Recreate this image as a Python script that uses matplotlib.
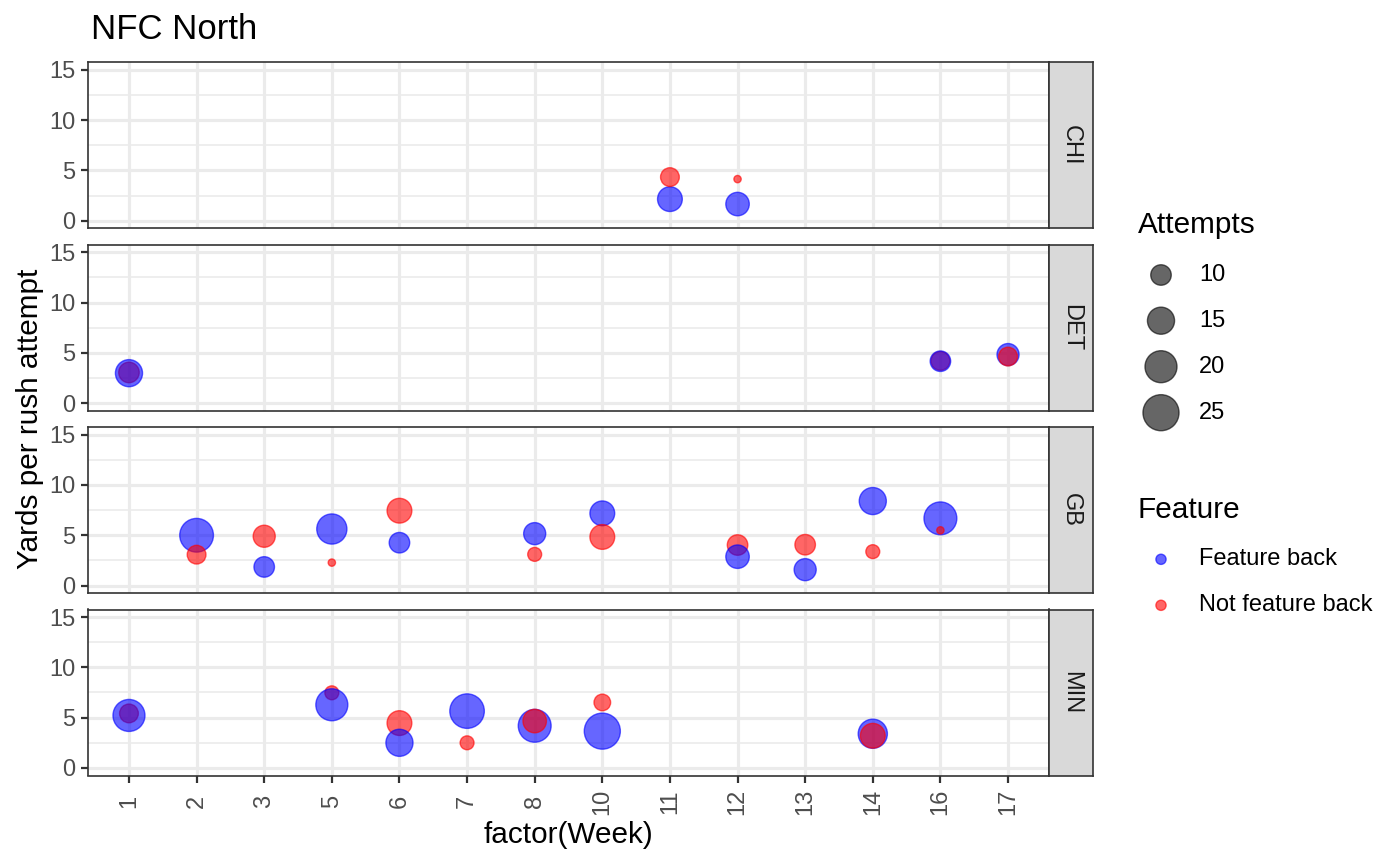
import matplotlib
matplotlib.use("Agg")
import matplotlib.pyplot as plt
import numpy as np

plt.rcParams['font.family'] = ['Liberation Sans', 'DejaVu Sans']

# --- data, rows listed in drawing order ---
WEEKS = [1, 2, 3, 5, 6, 7, 8, 10, 11, 12, 13, 14, 16, 17]
TEAMS = ["CHI", "DET", "GB", "MIN"]

chi_week = [11, 11, 12, 12]
chi_ypa = [2.15, 4.34, 1.66, 4.14]
chi_att = [13, 9, 12, 6]
chi_feat = [1, 0, 1, 0]

det_week = [1, 1, 16, 16, 17, 17]
det_ypa = [3.05, 2.98, 4.20, 4.17, 4.83, 4.63]
det_att = [10, 15, 9, 10, 11, 9]
det_feat = [0, 1, 0, 1, 1, 0]

gb_week = [2, 2, 3, 3, 5, 5, 6, 6, 8, 8, 10, 10, 12, 12, 13, 13, 14, 14, 16, 16]
gb_ypa = [5.00, 3.07, 4.90, 1.85, 5.62, 2.28, 7.44, 4.26, 5.16, 3.10,
          7.18, 4.83, 4.03, 2.87, 4.06, 1.58, 8.40, 3.37, 6.68, 5.49]
gb_att = [22, 9, 11, 10, 18, 6, 13, 10, 11, 7,
          13, 13, 10, 12, 10, 11, 15, 7, 21, 6]
gb_feat = [1, 0, 0, 1, 1, 0, 0, 1, 1, 0,
           1, 0, 0, 1, 0, 1, 1, 0, 1, 0]

min_week = [1, 1, 5, 5, 6, 6, 7, 7, 8, 8, 10, 10, 14, 14]
min_ypa = [5.42, 5.22, 7.47, 6.28, 4.46, 2.50, 5.65, 2.50, 4.19, 4.66, 6.51, 3.66, 3.40, 3.20]
min_att = [9, 20, 7, 20, 13, 15, 23, 7, 21, 12, 8, 25, 17, 13]
min_feat = [0, 1, 0, 1, 0, 1, 1, 0, 1, 0, 0, 1, 1, 0]

SIZE_BREAKS = [10, 15, 20, 25]
FEATURE_LABELS = ["Feature back", "Not feature back"]

team_data = {
    "CHI": (chi_week, chi_ypa, chi_att, chi_feat),
    "DET": (det_week, det_ypa, det_att, det_feat),
    "GB": (gb_week, gb_ypa, gb_att, gb_feat),
    "MIN": (min_week, min_ypa, min_att, min_feat),
}

# --- styling ---
W, H, DPI = 1400, 865, 200
EDGE_LW = 0.5
BLUE = (0, 0, 1, 0.6)
RED = (1, 0, 0, 0.6)
GREY20 = "#333333"
GRID = "#EBEBEB"
TITLE_FS, AXTITLE_FS, TEXT_FS = 12.5, 10.7, 8.5


def marker_area(att):
    # ggplot-like area scale: diameter grows with sqrt(attempts - min)
    d_px = 8.7 + 6.6 * np.sqrt(np.clip(np.asarray(att, float) - 6, 0, None))
    d_pt = d_px * 72 / DPI - EDGE_LW
    return d_pt ** 2


def px_box(x0, y0, x1, y1):
    return [x0 / W, 1 - y1 / H, (x1 - x0) / W, (y1 - y0) / H]


fig = plt.figure(figsize=(W / DPI, H / DPI), dpi=DPI)

P_LEFT, P_RIGHT, S_RIGHT = 88.4, 1048.6, 1093.3
P_TOP, P_H, P_STEP = 62.3, 166.0, 182.4

for i, team in enumerate(TEAMS):
    top = P_TOP + i * P_STEP
    ax = fig.add_axes(px_box(P_LEFT, top, P_RIGHT, top + P_H))
    week, ypa, att, feat = team_data[team]
    xpos = [WEEKS.index(w) + 1 for w in week]
    cols = [BLUE if f else RED for f in feat]
    ax.scatter(xpos, ypa, s=marker_area(att), c=cols, edgecolors=cols,
               linewidths=EDGE_LW, zorder=3)

    ax.set_xlim(0.4, len(WEEKS) + 0.6)
    ax.set_ylim(-0.75, 15.75)
    ax.set_yticks([0, 5, 10, 15])
    ax.set_yticks([2.5, 7.5, 12.5], minor=True)
    ax.set_xticks(range(1, len(WEEKS) + 1))
    ax.set_axisbelow(True)
    ax.grid(which='major', color=GRID, lw=1.15)
    ax.grid(which='minor', axis='y', color=GRID, lw=0.58)
    ax.tick_params(which='minor', length=0)
    ax.tick_params(axis='y', length=2.66, width=0.8, color=GREY20, pad=2,
                   labelsize=TEXT_FS, labelcolor="#4D4D4D")
    for sp in ax.spines.values():
        sp.set_color(GREY20)
        sp.set_linewidth(0.6)

    if i == len(TEAMS) - 1:
        ax.set_xticklabels([str(w) for w in WEEKS], rotation=90, va='center', ha='center')
        ax.tick_params(axis='x', length=2.5, width=0.8, color=GREY20, pad=6.9,
                       labelsize=TEXT_FS, labelcolor="#4D4D4D")
    else:
        ax.tick_params(axis='x', bottom=False, labelbottom=False)

    # facet strip
    sax = fig.add_axes(px_box(P_RIGHT, top, S_RIGHT, top + P_H))
    sax.set_facecolor("#D9D9D9")
    sax.set_xticks([])
    sax.set_yticks([])
    for sp in sax.spines.values():
        sp.set_color(GREY20)
        sp.set_linewidth(0.6)
    sax.text(0.5, 0.5, team, rotation=-90, ha='center', va='center',
             fontsize=TEXT_FS, color="#1A1A1A", transform=sax.transAxes)

# titles
fig.text(90.7 / W, 1 - 39.3 / H, "NFC North", fontsize=TITLE_FS, va='baseline', ha='left')
fig.text(30 / W, 1 - 419 / H, "Yards per rush attempt", fontsize=AXTITLE_FS, rotation=90,
         ha='center', va='center')
fig.text((P_LEFT + P_RIGHT) / 2 / W, 1 - 835 / H, "factor(Week)", fontsize=AXTITLE_FS,
         ha='center', va='center')

# legends drawn on an overlay in pixel coordinates
lax = fig.add_axes([0, 0, 1, 1])
lax.set_xlim(0, W)
lax.set_ylim(H, 0)
lax.axis('off')

lax.text(1138, 233, "Attempts", fontsize=AXTITLE_FS, va='baseline', ha='left')
size_y = [275, 320.7, 366.7, 412.7]
lax.scatter([1161] * len(SIZE_BREAKS), size_y, s=marker_area(SIZE_BREAKS),
            c=[(0, 0, 0, 0.6)], edgecolors=[(0, 0, 0, 0.6)], linewidths=EDGE_LW)
for yy, b in zip(size_y, SIZE_BREAKS):
    lax.text(1199, yy, str(b), fontsize=TEXT_FS, va='center', ha='left')

lax.text(1138, 518, "Feature", fontsize=AXTITLE_FS, va='baseline', ha='left')
feat_y = [559.3, 605.3]
key_d = 11.6 * 72 / DPI - EDGE_LW
lax.scatter([1161, 1161], feat_y, s=key_d ** 2, c=[BLUE, RED], edgecolors=[BLUE, RED],
            linewidths=EDGE_LW)
for yy, lab in zip(feat_y, FEATURE_LABELS):
    lax.text(1199, yy, lab, fontsize=TEXT_FS, va='center', ha='left')

fig.savefig("out.png", dpi=DPI, facecolor='white')
